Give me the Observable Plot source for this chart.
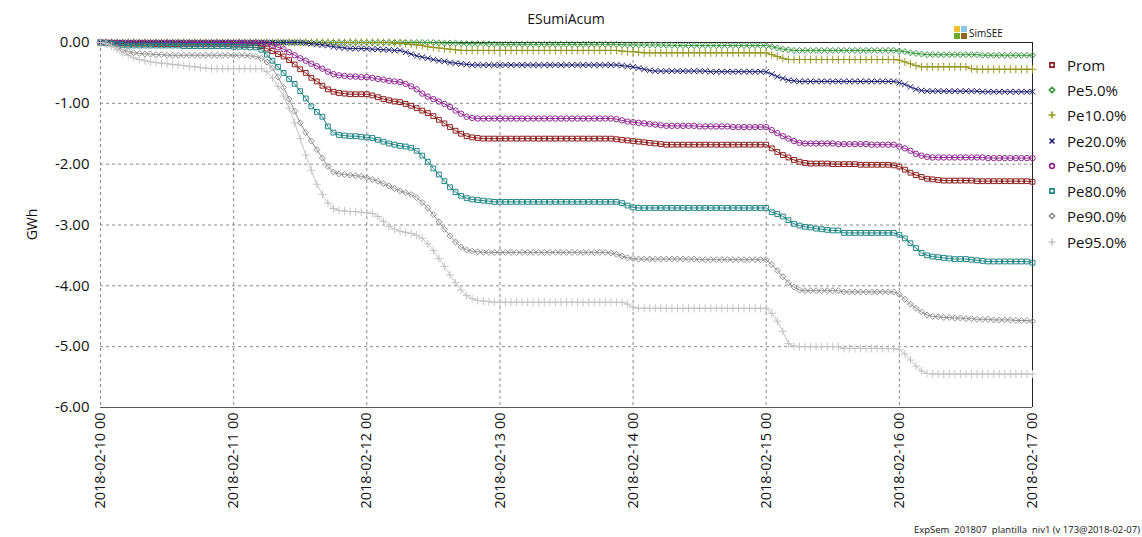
<!DOCTYPE html>
<html>
<head>
<meta charset="utf-8">
<script src="https://cdn.jsdelivr.net/npm/d3@7"></script>
<script src="https://cdn.jsdelivr.net/npm/@observablehq/plot@0.6"></script>
<style>
  html, body { margin: 0; padding: 0; background: #fff; }
  #wrap { position: relative; width: 1142px; height: 537px; font-family: "Open Sans", sans-serif; color: #111; overflow: hidden; }
  #chart { position: absolute; left: 0; top: 0; }
  #title { position: absolute; left: 0; width: 1132px; top: 9px; text-align: center; font-size: 14px; }
  #ylab { position: absolute; left: 11px; top: 215px; width: 40px; text-align: center; font-size: 14px; transform: rotate(-90deg); }
  #legend { position: absolute; left: 1046px; top: 52px; }
  .li { height: 25.3px; display: flex; align-items: center; font-size: 15px; }
  .li svg { margin-right: 9px; }
  #caption { position: absolute; right: 2px; bottom: 1px; font-size: 9.5px; white-space: pre; }
  #logo { position: absolute; left: 954px; top: 25px; display: flex; align-items: flex-end; }
  #logo .sq { position: relative; width: 14px; height: 14px; }
  #logo .sq span { position: absolute; width: 6px; height: 6px; }
  #logo .t { font-size: 10px; margin-left: 1px; line-height: 10px; padding-bottom: 1px; }
</style>
</head>
<body>
<div id="wrap">
  <div id="title">ESumiAcum</div>
  <div id="ylab">GWh</div>
  <div id="chart"></div>
  <div id="legend"></div>
  <div id="logo"><div class="sq"><span style="left:0;top:1px;background:#f2c12e"></span><span style="left:7px;top:1px;background:#8cc8ee"></span><span style="left:0;top:8px;background:#6aaa2a"></span><span style="left:7px;top:8px;background:#946420"></span></div><div class="t">SimSEE</div></div>
  <div id="caption"></div>
</div>
<script>
// ---- data (hourly values, GWh) ----
const seriesNames = ["Prom", "Pe5.0%", "Pe10.0%", "Pe20.0%", "Pe50.0%", "Pe80.0%", "Pe90.0%", "Pe95.0%"];
const seriesColors = ["#8b1c1c", "#33963a", "#96961e", "#1c1c72", "#8e2490", "#1f8585", "#8f8f8f", "#c4c4c4"];
const seriesSymbols = ["square", "diamond2", "plus", "times", "circle", "square", "diamond2", "plus"];

const prom = [
  0, -0.005, -0.01, -0.01, -0.015, -0.02, -0.02, -0.02, -0.02, -0.02, -0.025, -0.025, -0.025, -0.025, -0.025, -0.03, -0.03, -0.03, -0.03, -0.03, -0.03, -0.03, -0.03, -0.03,
  -0.035, -0.035, -0.04, -0.04, -0.045, -0.06, -0.10, -0.14, -0.19, -0.23, -0.29, -0.36, -0.44, -0.50, -0.58, -0.64, -0.71, -0.77, -0.81, -0.83, -0.84, -0.85, -0.85, -0.85,
  -0.85, -0.87, -0.90, -0.93, -0.95, -0.97, -0.98, -1.01, -1.04, -1.08, -1.12, -1.16, -1.21, -1.27, -1.33, -1.39, -1.45, -1.50, -1.54, -1.56, -1.57, -1.58, -1.58, -1.58,
  -1.58, -1.58, -1.58, -1.58, -1.58, -1.58, -1.58, -1.58, -1.58, -1.58, -1.58, -1.58, -1.58, -1.58, -1.58, -1.58, -1.58, -1.58, -1.58, -1.58, -1.58, -1.59, -1.60, -1.61,
  -1.62, -1.63, -1.64, -1.65, -1.66, -1.67, -1.68, -1.68, -1.68, -1.68, -1.68, -1.68, -1.68, -1.68, -1.68, -1.68, -1.68, -1.68, -1.68, -1.68, -1.68, -1.68, -1.68, -1.68,
  -1.68, -1.74, -1.80, -1.85, -1.89, -1.93, -1.96, -1.98, -1.99, -1.99, -1.99, -1.99, -2.00, -2.00, -2.00, -2.00, -2.00, -2.01, -2.01, -2.01, -2.01, -2.01, -2.01, -2.02,
  -2.04, -2.09, -2.14, -2.18, -2.21, -2.24, -2.25, -2.26, -2.27, -2.27, -2.27, -2.27, -2.27, -2.27, -2.28, -2.28, -2.28, -2.28, -2.28, -2.28, -2.28, -2.28, -2.28, -2.28,
  -2.29
];
const pe5 = [
  0, 0, 0, 0, 0, 0, 0, 0, 0, 0, 0, 0, 0, 0, 0, 0, 0, 0, 0, 0, 0, 0, 0, 0,
  0, 0, 0, 0, 0, 0, 0, 0, 0, 0, 0, 0, 0, 0, 0, 0, 0, 0, 0, 0, 0, 0, 0, 0,
  0, 0, 0, 0, 0, 0, 0, 0, 0, 0, 0, 0, 0, -0.005, -0.01, -0.01, -0.01, -0.015, -0.02, -0.02, -0.02, -0.02, -0.025, -0.025,
  -0.03, -0.03, -0.03, -0.03, -0.03, -0.03, -0.03, -0.03, -0.03, -0.03, -0.03, -0.03, -0.03, -0.03, -0.03, -0.03, -0.03, -0.03, -0.03, -0.03, -0.03, -0.03, -0.035, -0.04,
  -0.04, -0.04, -0.04, -0.04, -0.04, -0.04, -0.045, -0.045, -0.05, -0.05, -0.05, -0.05, -0.05, -0.05, -0.05, -0.05, -0.05, -0.05, -0.05, -0.05, -0.05, -0.05, -0.05, -0.05,
  -0.05, -0.07, -0.09, -0.11, -0.12, -0.13, -0.13, -0.13, -0.13, -0.13, -0.13, -0.13, -0.13, -0.13, -0.13, -0.13, -0.13, -0.13, -0.13, -0.13, -0.13, -0.13, -0.13, -0.13,
  -0.14, -0.15, -0.17, -0.18, -0.19, -0.20, -0.20, -0.20, -0.20, -0.20, -0.20, -0.20, -0.20, -0.20, -0.20, -0.21, -0.21, -0.21, -0.21, -0.21, -0.21, -0.21, -0.21, -0.21,
  -0.21
];
const pe10 = [
  0, 0, 0, 0, 0, 0, 0, 0, 0, 0, 0, 0, 0, 0, 0, 0, 0, 0, 0, 0, 0, 0, 0, 0,
  0, 0, 0, 0, 0, 0, 0, 0, 0, 0, 0, 0, 0, 0, 0, 0, 0, 0, 0, 0, 0, 0, 0, 0,
  0, 0, 0, 0, 0, -0.01, -0.01, -0.02, -0.03, -0.04, -0.05, -0.07, -0.08, -0.09, -0.10, -0.11, -0.12, -0.13, -0.13, -0.13, -0.13, -0.13, -0.13, -0.13,
  -0.13, -0.13, -0.13, -0.13, -0.13, -0.13, -0.13, -0.13, -0.13, -0.13, -0.13, -0.13, -0.13, -0.13, -0.13, -0.13, -0.13, -0.13, -0.13, -0.13, -0.13, -0.13, -0.14, -0.15,
  -0.15, -0.16, -0.17, -0.17, -0.17, -0.17, -0.17, -0.17, -0.17, -0.17, -0.17, -0.17, -0.17, -0.17, -0.17, -0.17, -0.17, -0.17, -0.17, -0.17, -0.17, -0.17, -0.17, -0.17,
  -0.17, -0.20, -0.23, -0.26, -0.28, -0.28, -0.28, -0.28, -0.28, -0.28, -0.28, -0.28, -0.28, -0.28, -0.28, -0.28, -0.28, -0.28, -0.28, -0.28, -0.28, -0.28, -0.28, -0.28,
  -0.29, -0.32, -0.35, -0.38, -0.40, -0.40, -0.40, -0.40, -0.40, -0.40, -0.40, -0.40, -0.40, -0.43, -0.44, -0.44, -0.44, -0.44, -0.44, -0.44, -0.44, -0.44, -0.44, -0.44,
  -0.44
];
const pe20 = [
  0, 0, 0, 0, 0, 0, 0, 0, 0, 0, 0, 0, 0, 0, 0, 0, 0, 0, 0, 0, 0, 0, 0, 0,
  0, 0, 0, 0, 0, 0, 0, 0, 0, 0, 0, 0, 0, -0.01, -0.02, -0.03, -0.04, -0.05, -0.07, -0.08, -0.09, -0.10, -0.10, -0.10,
  -0.10, -0.11, -0.11, -0.12, -0.12, -0.13, -0.13, -0.16, -0.19, -0.22, -0.24, -0.26, -0.28, -0.30, -0.31, -0.33, -0.34, -0.35, -0.36, -0.37, -0.37, -0.37, -0.37, -0.37,
  -0.37, -0.37, -0.37, -0.37, -0.37, -0.37, -0.37, -0.37, -0.37, -0.37, -0.37, -0.37, -0.37, -0.37, -0.37, -0.37, -0.37, -0.37, -0.37, -0.37, -0.37, -0.37, -0.38, -0.39,
  -0.40, -0.42, -0.44, -0.46, -0.47, -0.47, -0.47, -0.47, -0.47, -0.47, -0.47, -0.47, -0.47, -0.47, -0.48, -0.48, -0.48, -0.48, -0.48, -0.48, -0.48, -0.48, -0.48, -0.48,
  -0.48, -0.52, -0.56, -0.59, -0.62, -0.63, -0.64, -0.64, -0.64, -0.64, -0.64, -0.64, -0.64, -0.64, -0.64, -0.64, -0.64, -0.64, -0.64, -0.64, -0.64, -0.64, -0.64, -0.64,
  -0.66, -0.69, -0.73, -0.77, -0.79, -0.80, -0.80, -0.80, -0.80, -0.80, -0.80, -0.80, -0.80, -0.80, -0.80, -0.81, -0.81, -0.81, -0.81, -0.81, -0.81, -0.81, -0.81, -0.81,
  -0.81
];
const pe50 = [
  0, 0, 0, -0.005, -0.005, -0.005, -0.005, -0.005, -0.005, -0.005, -0.005, -0.005, -0.005, -0.005, -0.005, -0.005, -0.005, -0.005, -0.005, -0.005, -0.005, -0.005, -0.005, -0.005,
  -0.005, -0.005, -0.005, -0.005, -0.005, -0.01, -0.02, -0.04, -0.08, -0.11, -0.16, -0.21, -0.26, -0.30, -0.35, -0.39, -0.43, -0.48, -0.52, -0.54, -0.55, -0.56, -0.56, -0.57,
  -0.57, -0.58, -0.60, -0.61, -0.63, -0.64, -0.65, -0.68, -0.72, -0.77, -0.84, -0.89, -0.93, -0.97, -1.01, -1.06, -1.12, -1.17, -1.22, -1.24, -1.25, -1.25, -1.25, -1.25,
  -1.25, -1.25, -1.25, -1.25, -1.25, -1.25, -1.25, -1.25, -1.25, -1.25, -1.25, -1.25, -1.25, -1.25, -1.25, -1.25, -1.25, -1.25, -1.25, -1.25, -1.25, -1.26, -1.28, -1.30,
  -1.31, -1.32, -1.33, -1.34, -1.35, -1.36, -1.37, -1.37, -1.37, -1.37, -1.37, -1.37, -1.38, -1.38, -1.38, -1.38, -1.38, -1.38, -1.39, -1.39, -1.39, -1.39, -1.39, -1.39,
  -1.39, -1.44, -1.49, -1.54, -1.58, -1.62, -1.65, -1.66, -1.66, -1.66, -1.66, -1.66, -1.66, -1.67, -1.67, -1.67, -1.67, -1.67, -1.67, -1.68, -1.68, -1.68, -1.68, -1.68,
  -1.71, -1.74, -1.78, -1.83, -1.86, -1.88, -1.89, -1.89, -1.89, -1.89, -1.89, -1.89, -1.89, -1.89, -1.89, -1.89, -1.90, -1.90, -1.90, -1.90, -1.90, -1.90, -1.90, -1.90,
  -1.90
];
const pe80 = [
  0, -0.01, -0.02, -0.03, -0.04, -0.05, -0.05, -0.05, -0.05, -0.05, -0.05, -0.05, -0.05, -0.05, -0.05, -0.06, -0.06, -0.06, -0.06, -0.06, -0.06, -0.06, -0.06, -0.06,
  -0.07, -0.07, -0.07, -0.08, -0.08, -0.12, -0.20, -0.30, -0.40, -0.50, -0.60, -0.68, -0.80, -0.92, -1.05, -1.14, -1.22, -1.38, -1.48, -1.52, -1.53, -1.54, -1.54, -1.55,
  -1.56, -1.57, -1.60, -1.63, -1.66, -1.68, -1.70, -1.71, -1.73, -1.78, -1.86, -1.96, -2.07, -2.17, -2.28, -2.38, -2.46, -2.52, -2.56, -2.58, -2.59, -2.60, -2.61, -2.62,
  -2.62, -2.62, -2.62, -2.62, -2.62, -2.62, -2.62, -2.62, -2.62, -2.62, -2.62, -2.62, -2.62, -2.62, -2.62, -2.62, -2.62, -2.62, -2.62, -2.62, -2.62, -2.62, -2.64, -2.68,
  -2.71, -2.72, -2.72, -2.72, -2.72, -2.72, -2.72, -2.72, -2.72, -2.72, -2.72, -2.72, -2.72, -2.72, -2.72, -2.72, -2.72, -2.72, -2.72, -2.72, -2.72, -2.72, -2.72, -2.72,
  -2.72, -2.79, -2.82, -2.86, -2.92, -2.98, -3.01, -3.03, -3.04, -3.06, -3.07, -3.08, -3.09, -3.09, -3.13, -3.13, -3.13, -3.13, -3.13, -3.13, -3.13, -3.13, -3.13, -3.13,
  -3.16, -3.22, -3.30, -3.38, -3.46, -3.50, -3.52, -3.53, -3.54, -3.55, -3.56, -3.56, -3.56, -3.57, -3.58, -3.59, -3.60, -3.60, -3.60, -3.60, -3.60, -3.60, -3.60, -3.60,
  -3.62
];
const pe90 = [
  0, -0.01, -0.04, -0.08, -0.12, -0.15, -0.17, -0.18, -0.19, -0.19, -0.20, -0.20, -0.21, -0.21, -0.21, -0.21, -0.21, -0.21, -0.21, -0.21, -0.21, -0.21, -0.21, -0.21,
  -0.21, -0.21, -0.21, -0.22, -0.23, -0.26, -0.32, -0.42, -0.57, -0.74, -0.93, -1.13, -1.32, -1.48, -1.62, -1.76, -1.90, -2.04, -2.13, -2.16, -2.17, -2.18, -2.19, -2.20,
  -2.22, -2.25, -2.28, -2.32, -2.36, -2.40, -2.44, -2.47, -2.50, -2.55, -2.63, -2.72, -2.83, -2.95, -3.07, -3.18, -3.28, -3.36, -3.41, -3.43, -3.44, -3.45, -3.45, -3.45,
  -3.45, -3.45, -3.45, -3.45, -3.45, -3.45, -3.45, -3.45, -3.45, -3.45, -3.45, -3.45, -3.45, -3.45, -3.45, -3.45, -3.45, -3.45, -3.45, -3.45, -3.46, -3.48, -3.51, -3.54,
  -3.55, -3.56, -3.56, -3.56, -3.56, -3.56, -3.56, -3.56, -3.56, -3.56, -3.56, -3.56, -3.57, -3.57, -3.57, -3.57, -3.57, -3.57, -3.57, -3.57, -3.57, -3.57, -3.57, -3.57,
  -3.57, -3.65, -3.75, -3.85, -3.95, -4.02, -4.07, -4.08, -4.08, -4.08, -4.08, -4.08, -4.08, -4.08, -4.10, -4.10, -4.10, -4.10, -4.10, -4.10, -4.10, -4.10, -4.10, -4.10,
  -4.14, -4.22, -4.30, -4.37, -4.43, -4.48, -4.50, -4.51, -4.52, -4.52, -4.53, -4.53, -4.54, -4.54, -4.55, -4.55, -4.55, -4.56, -4.56, -4.56, -4.56, -4.57, -4.57, -4.57,
  -4.58
];
const pe95 = [
  0, -0.02, -0.06, -0.12, -0.17, -0.21, -0.25, -0.28, -0.30, -0.32, -0.33, -0.34, -0.35, -0.36, -0.37, -0.38, -0.39, -0.40, -0.41, -0.42, -0.43, -0.43, -0.43, -0.43,
  -0.43, -0.43, -0.43, -0.43, -0.43, -0.43, -0.48, -0.58, -0.72, -0.88, -1.08, -1.32, -1.58, -1.85, -2.10, -2.33, -2.50, -2.64, -2.73, -2.76, -2.77, -2.78, -2.78, -2.79,
  -2.80, -2.81, -2.86, -2.94, -3.02, -3.07, -3.10, -3.12, -3.14, -3.17, -3.22, -3.31, -3.42, -3.55, -3.68, -3.82, -3.95, -4.07, -4.16, -4.21, -4.24, -4.25, -4.26, -4.27,
  -4.27, -4.27, -4.27, -4.27, -4.27, -4.27, -4.27, -4.27, -4.27, -4.27, -4.27, -4.27, -4.27, -4.27, -4.27, -4.27, -4.27, -4.27, -4.27, -4.27, -4.27, -4.27, -4.27, -4.30,
  -4.35, -4.37, -4.37, -4.37, -4.37, -4.37, -4.37, -4.37, -4.37, -4.37, -4.37, -4.37, -4.37, -4.37, -4.37, -4.37, -4.37, -4.37, -4.37, -4.37, -4.37, -4.37, -4.37, -4.37,
  -4.37, -4.45, -4.58, -4.75, -4.95, -4.99, -5.00, -5.00, -5.00, -5.00, -5.00, -5.00, -5.00, -5.00, -5.03, -5.03, -5.03, -5.03, -5.03, -5.03, -5.03, -5.03, -5.03, -5.03,
  -5.05, -5.12, -5.22, -5.32, -5.40, -5.44, -5.45, -5.45, -5.45, -5.45, -5.45, -5.45, -5.45, -5.45, -5.45, -5.45, -5.45, -5.45, -5.45, -5.45, -5.45, -5.45, -5.45, -5.45,
  -5.45
];
const seriesValues = [prom, pe5, pe10, pe20, pe50, pe80, pe90, pe95];

const startDate = new Date(Date.UTC(2018, 1, 10, 0));
const endDate = new Date(Date.UTC(2018, 1, 17, 0));
const xTickLabels = ["2018-02-10 00", "2018-02-11 00", "2018-02-12 00", "2018-02-13 00", "2018-02-14 00", "2018-02-15 00", "2018-02-16 00", "2018-02-17 00"];
const yTicks = [0, -1, -2, -3, -4, -5, -6];
const captionText = "ExpSem  201807  plantilla  niv1 (v 173@2018-02-07)";

// ---- build ----
const xTicks = xTickLabels.map(s => new Date(s.slice(0, 10) + "T" + s.slice(11) + ":00:00Z"));
const fmt = d3.utcFormat("%Y-%m-%d %H");
const HOUR = 3600 * 1000;

const marks = [
  Plot.gridY(yTicks, {stroke: "#8a8a8a", strokeOpacity: 1, strokeDasharray: "3,3"}),
  Plot.gridX(xTicks, {stroke: "#8a8a8a", strokeOpacity: 1, strokeDasharray: "3,3"}),
  Plot.ruleY([d3.min(yTicks)], {stroke: "#555"}),
  Plot.ruleY([d3.max(yTicks)], {stroke: "#222"}),
  Plot.ruleX([endDate], {stroke: "#222"})
];
seriesNames.forEach((name, k) => {
  const rows = seriesValues[k].map((v, i) => ({date: new Date(+startDate + i * HOUR), value: v}));
  marks.push(Plot.line(rows, {x: "date", y: "value", stroke: seriesColors[k], strokeWidth: 1}));
  marks.push(Plot.dot(rows, {x: "date", y: "value", stroke: seriesColors[k], symbol: seriesSymbols[k], r: 2.7, strokeWidth: 1, fill: "none"}));
});
marks.push(
  Plot.axisX(xTicks, {tickFormat: fmt, tickRotate: -90, tickSize: 0, tickPadding: 5, fontSize: 14.5, label: null}),
  Plot.axisY(yTicks, {tickFormat: d => d.toFixed(2), tickSize: 0, tickPadding: 11, fontSize: 15, label: null})
);

const chart = Plot.plot({
  width: 1142,
  height: 537,
  marginLeft: 100,
  marginRight: 110,
  marginTop: 42,
  marginBottom: 130,
  x: {type: "utc", domain: [startDate, endDate]},
  y: {domain: [d3.min(yTicks), d3.max(yTicks)]},
  style: {fontFamily: "Open Sans, sans-serif", color: "#111", background: "transparent", overflow: "visible"},
  marks
});
document.getElementById("chart").appendChild(chart);

// legend
const symMap = {square: d3.symbolSquare, diamond2: d3.symbolDiamond2, plus: d3.symbolPlus, times: d3.symbolTimes, circle: d3.symbolCircle};
const legend = d3.select("#legend");
seriesNames.forEach((name, k) => {
  const row = legend.append("div").attr("class", "li");
  const svg = row.append("svg").attr("width", 12).attr("height", 12);
  svg.append("path")
    .attr("transform", "translate(6,6)")
    .attr("d", d3.symbol(symMap[seriesSymbols[k]], 2.4 * 2.4 * Math.PI)())
    .attr("fill", "none")
    .attr("stroke", seriesColors[k])
    .attr("stroke-width", 1.6);
  row.append("span").text(name);
});
document.getElementById("caption").textContent = captionText;
</script>
</body>
</html>
